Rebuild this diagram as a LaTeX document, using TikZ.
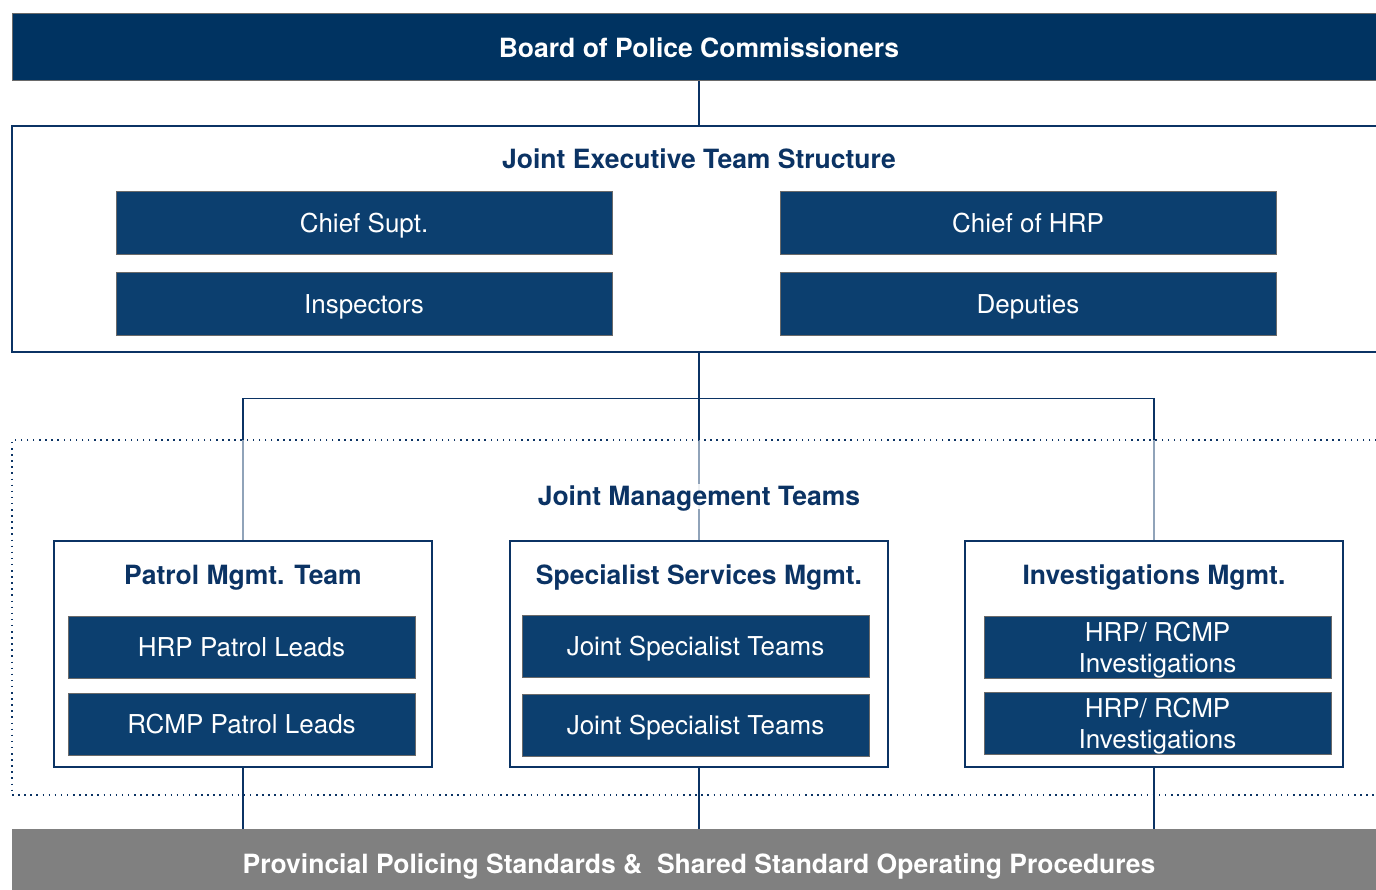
\documentclass[tikz,border=0pt]{standalone}
\usepackage{fontspec}
\setmainfont{TeX Gyre Heros}
\usetikzlibrary{positioning}

\definecolor{navy}{HTML}{0B3364}
\definecolor{boardblue}{HTML}{003361}
\definecolor{roleblue}{HTML}{0C3F6F}
\definecolor{edgegray}{HTML}{6A6A6A}
\definecolor{barGray}{HTML}{808080}

\begin{document}
\begin{tikzpicture}[x=1pt, y=-1pt, node distance=17pt,
    banner/.style = {draw=edgegray, fill=boardblue, text=white, line width=1pt, minimum width=1374pt, minimum height=67pt, inner sep=0pt, font=\bfseries\fontsize{26.5}{30}\selectfont},
    frame/.style = {draw=navy, fill=white, line width=1.5pt, inner sep=0pt},
    role/.style = {draw=edgegray, fill=roleblue, text=white, line width=1pt, minimum width=496pt, minimum height=63pt, inner sep=0pt, align=center, text height=19pt, text depth=0pt, font=\fontsize{26}{31}\selectfont},
    lead/.style = {role, minimum width=347pt, minimum height=62pt},
    head/.style = {text=navy, inner sep=1pt, text height=19pt, text depth=0pt, font=\bfseries\fontsize{26.5}{30}\selectfont},
    link/.style = {draw=navy, line width=1.5pt}]
    \useasboundingbox (0,0) rectangle (1376,890);

    % top and executive team
    \node[banner] (Board) at (699,47.5) {Board of Police Commissioners};
    \node[frame, minimum width=1374pt, minimum height=226pt] (JET) at (699,239) {};
    \node[head] (JETtitle) at (699,159.5) {Joint Executive Team Structure};
    \node[role] (CS) at (364,223.5) {Chief Supt.};
    \node[role] (Insp) [below=of CS] {Inspectors};
    \node[role] (CH) at (1028,223.5) {Chief of HRP};
    \node[role] (Dep) [below=of CH] {Deputies};

    \path[link] (Board) -- (JET);

    % management teams
    \coordinate (PatrolTop) at (243,541);
    \coordinate (SpecTop) at (699,541);
    \coordinate (InvTop) at (1154,541);
    \draw[link] (JET.south) -- ++(0,46) -| (PatrolTop);
    \draw[link] (JET.south) -- ++(0,46) -| (InvTop);
    \draw[link] (JET.south) -- (SpecTop);

    \node[fill=white, fill opacity=0.55, draw=navy, draw opacity=1, line width=1.5pt, dash pattern=on 1.5pt off 4.6pt, minimum width=1374pt, minimum height=355pt, inner sep=0pt] (JMT) at (699,617.5) {};
    \node[head, fill=white, fill opacity=0.85, text opacity=1, inner sep=3pt] (JMTtitle) at (699,496) {Joint Management Teams};

    \node[frame, minimum width=378pt, minimum height=226pt] (Patrol) at (243,654) {};
    \node[frame, minimum width=378pt, minimum height=226pt] (Spec) at (699,654) {};
    \node[frame, minimum width=378pt, minimum height=226pt] (Inv) at (1154,654) {};
    \node[head] at (243,575) {Patrol Mgmt. Team};
    \node[head] at (699,575) {Specialist Services Mgmt.};
    \node[head] at (1154,575) {Investigations Mgmt.};

    \node[lead] (HRPlead) at (241.5,647) {HRP Patrol Leads};
    \node[lead] (RCMPlead) [below=14pt of HRPlead] {RCMP Patrol Leads};
    \node[lead] (JST1) at (695.5,646) {Joint Specialist Teams};
    \node[lead] (JST2) [below=16pt of JST1] {Joint Specialist Teams};
    \node[lead, text height=50pt] (Inv1) at (1157.5,647) {HRP/ RCMP\\Investigations};
    \node[lead, text height=50pt] (Inv2) [below=13pt of Inv1] {HRP/ RCMP\\Investigations};

    % standards bar
    \node[fill=barGray, text=white, minimum width=1374pt, minimum height=70pt, inner sep=0pt, text height=19pt, text depth=0pt, font=\bfseries\fontsize{26.5}{30}\selectfont] (SOP) at (699,864) {Provincial Policing Standards \&\ \ Shared Standard Operating Procedures};

    \path[link] (Patrol.south) -- (Patrol.south |- SOP.north);
    \path[link] (Spec.south) -- (Spec.south |- SOP.north);
    \path[link] (Inv.south) -- (Inv.south |- SOP.north);
\end{tikzpicture}
\end{document}
